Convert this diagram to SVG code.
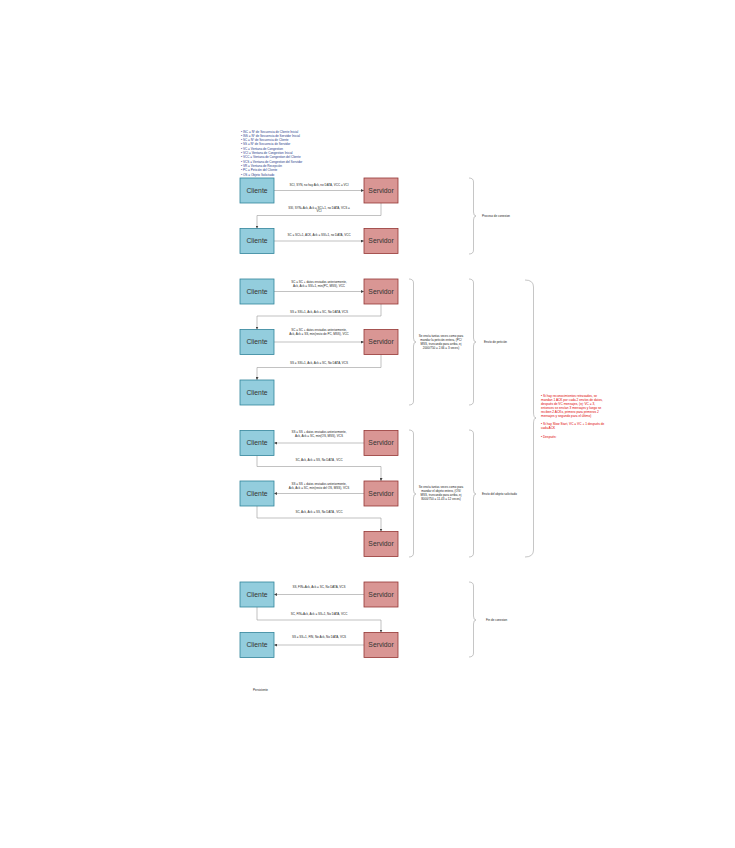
<svg xmlns="http://www.w3.org/2000/svg" width="735" height="848" viewBox="0 0 735 848">
<defs>
<style>
.bx{stroke-width:0.8}
.cli{fill:#93CDDD;stroke:#31849B}
.srv{fill:#D99694;stroke:#943634}
.nt{font-family:"Liberation Sans",Arial,sans-serif;font-size:6.8px;fill:#333;text-anchor:middle}
.lb{font-family:"Liberation Sans",Arial,sans-serif;font-size:3px;fill:#222;text-anchor:middle}
.sl{font-family:"Liberation Sans",Arial,sans-serif;font-size:3px;fill:#222}
.lg{font-family:"Liberation Sans",Arial,sans-serif;font-size:3.1px;fill:#1F3A8A}
.rd{font-family:"Liberation Sans",Arial,sans-serif;font-size:3.2px;fill:#E00000}
.cn{fill:none;stroke:#999;stroke-width:0.6;marker-end:url(#ah)}
.br{fill:none;stroke:#A0A0A0;stroke-width:0.6}
</style>
<marker id="ah" viewBox="0 0 6 6" refX="6" refY="3" markerWidth="3" markerHeight="3" markerUnits="userSpaceOnUse" orient="auto">
<path d="M0,0 L6,3 L0,6 Z" fill="#444"/>
</marker>
</defs>
<rect width="735" height="848" fill="#fff"/>

<g id="legend">
<text class="lg" x="241" y="132.5">• ISC = Nº de Secuencia de Cliente Inicial</text>
<text class="lg" x="241" y="136.8">• ISS = Nº de Secuencia de Servidor Inicial</text>
<text class="lg" x="241" y="141.1">• SC = Nº de Secuencia de Cliente</text>
<text class="lg" x="241" y="145.4">• SS = Nº de Secuencia de Servidor</text>
<text class="lg" x="241" y="149.7">• VC = Ventana de Congestion</text>
<text class="lg" x="241" y="154">• VCI = Ventana de Congestion Inicial</text>
<text class="lg" x="241" y="158.3">• VCC = Ventana de Congestion del Cliente</text>
<text class="lg" x="241" y="162.6">• VCS = Ventana de Congestion del Servidor</text>
<text class="lg" x="241" y="166.9">• VR = Ventana de Recepción</text>
<text class="lg" x="241" y="171.2">• PC = Petición del Cliente</text>
<text class="lg" x="241" y="175.5">• OS = Objeto Solicitado</text>
</g>

<g id="connectors">
<path id="c1" class="cn" d="M274,190.5 H364"/>
<path id="c2" class="cn" d="M381,203 V215.5 H257 V228.5"/>
<path id="c3" class="cn" d="M274,241 H364"/>
<path id="c4" class="cn" d="M274,291.5 H364"/>
<path id="c5" class="cn" d="M381,304 V316 H257 V329.5"/>
<path id="c6" class="cn" d="M274,342 H364"/>
<path id="c7" class="cn" d="M381,354.5 V367.5 H257 V380"/>
<path id="c8" class="cn" d="M364,443 H274"/>
<path id="c9" class="cn" d="M257,455.5 V466.5 H381 V481"/>
<path id="c10" class="cn" d="M364,493.5 H274"/>
<path id="c11" class="cn" d="M257,506 V518 H381 V531.5"/>
<path id="c12" class="cn" d="M364,594.5 H274"/>
<path id="c13" class="cn" d="M257,607 V620 H381 V632.5"/>
<path id="c14" class="cn" d="M364,645 H274"/>
<text class="lb" x="319" y="185.5">SCI, SYN, no hay Ack, no DATA, VCC = VCI</text>
<text class="lb" x="319" y="208.5">SSI, SYN+Ack, Ack = SCI+1, no DATA, VCS =</text>
<text class="lb" x="319" y="212.2">VCI</text>
<text class="lb" x="319" y="235.5">SC = SCI+1, ACK, Ack = SSI+1, no DATA, VCC</text>
<text class="lb" x="319" y="283">SC = SC + datos enviados anteriormente,</text>
<text class="lb" x="319" y="287">Ack, Ack = SSI+1, min(PC, MSS), VCC</text>
<text class="lb" x="319" y="312.8">SS = SSI+1, Ack, Ack = SC, No DATA, VCS</text>
<text class="lb" x="319" y="331">SC = SC + datos enviados anteriormente,</text>
<text class="lb" x="319" y="335.2">Ack, Ack = SS, min(resto de PC, MSS), VCC</text>
<text class="lb" x="319" y="364.3">SS = SSI+1, Ack, Ack = SC, No DATA, VCS</text>
<text class="lb" x="319" y="432.7">SS = SS + datos enviados anteriormente,</text>
<text class="lb" x="319" y="436.9">Ack, Ack = SC, min(OS, MSS), VCS</text>
<text class="lb" x="319" y="461.2">SC, Ack, Ack = SS, No DATA , VCC</text>
<text class="lb" x="319" y="485.3">SS = SS + datos enviados anteriormente,</text>
<text class="lb" x="319" y="489.4">Ack, Ack = SC, min(resto del OS, MSS), VCS</text>
<text class="lb" x="319" y="512.8">SC, Ack, Ack = SS, No DATA , VCC</text>
<text class="lb" x="319" y="587.8">SS, FIN+Ack, Ack = SC, No DATA, VCS</text>
<text class="lb" x="319" y="615">SC, FIN+Ack, Ack = SS+1, No DATA, VCC</text>
<text class="lb" x="319" y="637.8">SS = SS+1, FIN, No Ack, No DATA, VCS</text>
</g>

<g id="n1c"><rect class="bx cli" x="240" y="178" width="34" height="25"/><text class="nt" x="257" y="192.8">Cliente</text></g>
<g id="n1s"><rect class="bx srv" x="364" y="178" width="34" height="25"/><text class="nt" x="381" y="192.8">Servidor</text></g>
<g id="n2c"><rect class="bx cli" x="240" y="228.5" width="34" height="25"/><text class="nt" x="257" y="243.3">Cliente</text></g>
<g id="n2s"><rect class="bx srv" x="364" y="228.5" width="34" height="25"/><text class="nt" x="381" y="243.3">Servidor</text></g>
<g id="n3c"><rect class="bx cli" x="240" y="279" width="34" height="25"/><text class="nt" x="257" y="293.8">Cliente</text></g>
<g id="n3s"><rect class="bx srv" x="364" y="279" width="34" height="25"/><text class="nt" x="381" y="293.8">Servidor</text></g>
<g id="n4c"><rect class="bx cli" x="240" y="329.5" width="34" height="25"/><text class="nt" x="257" y="344.3">Cliente</text></g>
<g id="n4s"><rect class="bx srv" x="364" y="329.5" width="34" height="25"/><text class="nt" x="381" y="344.3">Servidor</text></g>
<g id="n5c"><rect class="bx cli" x="240" y="380" width="34" height="25"/><text class="nt" x="257" y="394.8">Cliente</text></g>
<g id="n6c"><rect class="bx cli" x="240" y="430.5" width="34" height="25"/><text class="nt" x="257" y="445.3">Cliente</text></g>
<g id="n6s"><rect class="bx srv" x="364" y="430.5" width="34" height="25"/><text class="nt" x="381" y="445.3">Servidor</text></g>
<g id="n7c"><rect class="bx cli" x="240" y="481" width="34" height="25"/><text class="nt" x="257" y="495.8">Cliente</text></g>
<g id="n7s"><rect class="bx srv" x="364" y="481" width="34" height="25"/><text class="nt" x="381" y="495.8">Servidor</text></g>
<g id="n8s"><rect class="bx srv" x="364" y="531.5" width="34" height="25"/><text class="nt" x="381" y="546.3">Servidor</text></g>
<g id="n9c"><rect class="bx cli" x="240" y="582" width="34" height="25"/><text class="nt" x="257" y="596.8">Cliente</text></g>
<g id="n9s"><rect class="bx srv" x="364" y="582" width="34" height="25"/><text class="nt" x="381" y="596.8">Servidor</text></g>
<g id="n10c"><rect class="bx cli" x="240" y="632.5" width="34" height="25"/><text class="nt" x="257" y="647.3">Cliente</text></g>
<g id="n10s"><rect class="bx srv" x="364" y="632.5" width="34" height="25"/><text class="nt" x="381" y="647.3">Servidor</text></g>

<g id="brace1">
<path class="br" d="M469,178 Q473.5,178 473.5,182 V212 Q473.5,216 476,216 Q473.5,216 473.5,220 V250 Q473.5,254 469,254"/>
<text class="sl" x="482" y="217">Proceso de conexion</text>
</g>
<g id="brace2">
<path class="br" d="M409,279 Q413.5,279 413.5,283 V338 Q413.5,342 416,342 Q413.5,342 413.5,346 V401 Q413.5,405 409,405"/>
<text class="lb" x="441" y="337">Se envía tantas veces como para</text>
<text class="lb" x="441" y="341">mandar la petición entera, (PC/</text>
<text class="lb" x="441" y="345">MSS, truncando para arriba, ej</text>
<text class="lb" x="441" y="349">2000/750 = 2.66 = 3 veces)</text>
</g>
<g id="brace3">
<path class="br" d="M469,279 Q473.5,279 473.5,283 V338 Q473.5,342 476,342 Q473.5,342 473.5,346 V401 Q473.5,405 469,405"/>
<text class="sl" x="484" y="343">Envío de petición</text>
</g>
<g id="brace4">
<path class="br" d="M525,280 Q533.5,280 533.5,287 V412 Q533.5,418 536,418 Q533.5,418 533.5,424 V550 Q533.5,557 525,557"/>
<text class="rd" x="541" y="396.5">• Si hay reconocimientos retrasados, se</text>
<text class="rd" x="541" y="400.5">mandan 1 ACK por cada 2 envíos de datos,</text>
<text class="rd" x="541" y="404.5">después de VC mensajes, (ej: VC = 3,</text>
<text class="rd" x="541" y="408.5">entonces se envían 3 mensajes y luego se</text>
<text class="rd" x="541" y="412.5">reciben 2 ACKs, primero para primeros 2</text>
<text class="rd" x="541" y="416.5">mensajes y segundo para el último)</text>
<text class="rd" x="541" y="425">• Si hay Slow Start, VC = VC + 1 después de</text>
<text class="rd" x="541" y="429">cada ACK</text>
<text class="rd" x="541" y="438">• Después:</text>
</g>
<g id="brace5">
<path class="br" d="M409,430 Q413.5,430 413.5,434 V490 Q413.5,494 416,494 Q413.5,494 413.5,498 V553 Q413.5,557 409,557"/>
<text class="lb" x="441" y="488">Se envía tantas veces como para</text>
<text class="lb" x="441" y="492">mandar el objeto entero, (OS/</text>
<text class="lb" x="441" y="496">MSS, truncando para arriba, ej</text>
<text class="lb" x="441" y="500">8000/750 = 11.43 = 12 veces)</text>
</g>
<g id="brace6">
<path class="br" d="M469,430 Q473.5,430 473.5,434 V490 Q473.5,494 476,494 Q473.5,494 473.5,498 V553 Q473.5,557 469,557"/>
<text class="sl" x="482" y="495">Envío del objeto solicitado</text>
</g>
<g id="brace7">
<path class="br" d="M469,582 Q473.5,582 473.5,586 V616 Q473.5,620 476,620 Q473.5,620 473.5,624 V653 Q473.5,657 469,657"/>
<text class="sl" x="486" y="621">Fin de conexion</text>
</g>

<text class="sl" x="253" y="690.5">Persistente</text>
</svg>
